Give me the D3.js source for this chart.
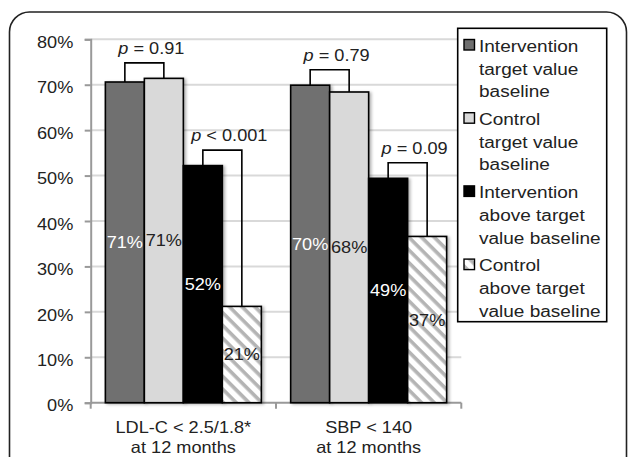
<!DOCTYPE html>
<html>
<head>
<meta charset="utf-8">
<script src="https://cdn.jsdelivr.net/npm/d3@7"></script>
<style>
  body { margin: 0; background: #fff; }
  svg { display: block; font-family: "Liberation Sans", Arial, sans-serif; }
</style>
</head>
<body>
<svg width="629" height="457"></svg>
<script>
// data
var categories = ["LDL-C < 2.5/1.8*|at 12 months", "SBP < 140|at 12 months"];
var series = ["Intervention target value baseline", "Control target value baseline",
              "Intervention above target value baseline", "Control above target value baseline"];
var legendLines = [["Intervention", "target value", "baseline"],
                   ["Control", "target value", "baseline"],
                   ["Intervention", "above target", "value baseline"],
                   ["Control", "above target", "value baseline"]];
var ldlValues = [0.706, 0.714, 0.522, 0.212];
var sbpValues = [0.699, 0.684, 0.494, 0.366];
var pLabels = [["= 0.91", "< 0.001"], ["= 0.79", "= 0.09"]];
var yTicks = [0, 0.1, 0.2, 0.3, 0.4, 0.5, 0.6, 0.7, 0.8];

var values = [ldlValues, sbpValues];
var fills = ["#6f6f6f", "#d9d9d9", "#000", "url(#hatch)"];
var labelColors = ["#fff", "#222", "#fff", "#222"];
var fontSize = 16.5;
var stretchK = 1.1;

var svg = d3.select("svg");
var defs = svg.append("defs");

// grey "\" stripes on white
var pat = defs.append("pattern")
    .attr("id", "hatch")
    .attr("patternUnits", "userSpaceOnUse")
    .attr("width", 9).attr("height", 9)
    .attr("patternTransform", "rotate(45)");
pat.append("rect").attr("width", 9).attr("height", 9).attr("fill", "#fff");
pat.append("rect").attr("width", 9).attr("height", 3.6).attr("fill", "#b4b4b4");

var shadow = defs.append("filter").attr("id", "shadow")
    .attr("x", "-20%").attr("y", "-5%").attr("width", "150%").attr("height", "115%");
shadow.append("feDropShadow")
    .attr("dx", 2).attr("dy", 1).attr("stdDeviation", 1.5)
    .attr("flood-color", "#000").attr("flood-opacity", 0.3);

// the picture's text is a bit wider than plain Arial
function stretch(sel) {
  sel.each(function() {
    var w = this.getComputedTextLength();
    d3.select(this).attr("textLength", w * stretchK).attr("lengthAdjust", "spacingAndGlyphs");
  });
}

// outer rounded frame
svg.append("rect")
    .attr("x", 9.5).attr("y", 12).attr("width", 617).attr("height", 520)
    .attr("rx", 20)
    .attr("fill", "none").attr("stroke", "#222").attr("stroke-width", 1.6);

var plotLeft = 90.7, plotRight = 461.3, plotTop = 39.3, plotBottom = 402.7;

var y = d3.scaleLinear().domain([0, 0.8]).range([plotBottom, plotTop]);
var x0 = d3.scaleBand().domain(categories).range([plotLeft, plotRight]).padding(0);
var x1 = d3.scaleBand().domain(d3.range(series.length))
    .range([0, x0.bandwidth()]).paddingInner(0).paddingOuter(0.376);

// gridlines
svg.append("g")
    .selectAll("line")
    .data(yTicks.slice(1))
    .join("line")
    .attr("x1", plotLeft).attr("x2", plotRight)
    .attr("y1", function(d) { return y(d); })
    .attr("y2", function(d) { return y(d); })
    .attr("stroke", "#d9d9d9").attr("stroke-width", 2);

// y axis
var yAxis = svg.append("g")
    .attr("transform", "translate(" + plotLeft + ",0)")
    .call(d3.axisLeft(y).tickValues(yTicks).tickFormat(d3.format(".0%"))
      .tickSize(6).tickPadding(11.4));
yAxis.select(".domain").attr("stroke", "#999").attr("stroke-width", 2);
yAxis.selectAll(".tick line").attr("stroke", "#999").attr("stroke-width", 2);
yAxis.selectAll(".tick text")
    .attr("dy", "0.5em")
    .attr("fill", "#222")
    .style("font-size", fontSize + "px")
    .style("font-family", "'Liberation Sans', Arial, sans-serif")
    .call(stretch);

// x axis line and boundary ticks
svg.append("line")
    .attr("x1", plotLeft).attr("x2", plotRight).attr("y1", plotBottom).attr("y2", plotBottom)
    .attr("stroke", "#999").attr("stroke-width", 2);
var bounds = categories.map(function(c) { return x0(c); }).concat([plotRight]);
svg.append("g").selectAll("line")
    .data(bounds)
    .join("line")
    .attr("x1", function(d) { return d; }).attr("x2", function(d) { return d; })
    .attr("y1", plotBottom).attr("y2", plotBottom + 6)
    .attr("stroke", "#999").attr("stroke-width", 2);

// x labels
var xl = svg.append("g").selectAll("text")
    .data(categories)
    .join("text")
    .attr("text-anchor", "middle")
    .attr("fill", "#222")
    .style("font-size", fontSize + "px");
xl.each(function(c) {
  var lines = c.split("|");
  var t = d3.select(this);
  lines.forEach(function(l, i) {
    t.append("tspan")
      .attr("x", x0(c) + x0.bandwidth() / 2)
      .attr("y", 433.3 + i * 19.5)
      .text(l);
  });
});
xl.selectAll("tspan").call(stretch);

// bars
var groups = svg.append("g").selectAll("g")
    .data(categories)
    .join("g")
    .attr("transform", function(c) { return "translate(" + x0(c) + ",0)"; });

groups.selectAll("rect")
    .data(function(c, ci) { return values[ci]; })
    .join("rect")
    .attr("x", function(d, i) { return x1(i); })
    .attr("y", function(d) { return y(d); })
    .attr("width", x1.bandwidth())
    .attr("height", function(d) { return y(0) - y(d); })
    .attr("fill", function(d, i) { return fills[i]; })
    .attr("stroke", "#000").attr("stroke-width", 1.6)
    .attr("filter", "url(#shadow)");

// value labels in the middle of each bar
groups.selectAll("text.val")
    .data(function(c, ci) { return values[ci]; })
    .join("text")
    .attr("class", "val")
    .attr("x", function(d, i) { return x1(i) + x1.bandwidth() / 2; })
    .attr("y", function(d) { return y(d / 2); })
    .attr("dy", "0.36em")
    .attr("text-anchor", "middle")
    .attr("fill", function(d, i) { return labelColors[i]; })
    .style("font-size", fontSize + "px")
    .text(d3.format(".0%"))
    .call(stretch);

// p-value brackets between pairs of bars
categories.forEach(function(c, ci) {
  var g = groups.filter(function(d) { return d === c; });
  [[0, 1], [2, 3]].forEach(function(pair, pi) {
    var a = pair[0], b = pair[1];
    var xa = x1(a) + x1.bandwidth() / 2, xb = x1(b) + x1.bandwidth() / 2;
    var ya = y(values[ci][a]), yb = y(values[ci][b]);
    var yt = Math.min(ya, yb) - 15.5;
    g.append("path")
      .attr("d", "M" + xa + "," + ya + "V" + yt + "H" + xb + "V" + yb)
      .attr("fill", "none").attr("stroke", "#000").attr("stroke-width", 1.6);
    var t = g.append("text")
      .attr("x", (xa + xb) / 2 + 7)
      .attr("y", yt - 9)
      .attr("text-anchor", "middle")
      .attr("fill", "#222")
      .style("font-size", fontSize + "px");
    t.append("tspan").attr("font-style", "italic").text("p");
    t.append("tspan").text(" " + pLabels[ci][pi]);
    t.call(stretch);
  });
});

// legend
var lg = svg.append("g");
lg.append("rect")
    .attr("x", 457.7).attr("y", 28.3).attr("width", 149).attr("height", 293.4)
    .attr("fill", "#fff").attr("stroke", "#000").attr("stroke-width", 1.6);
var items = lg.selectAll("g.item")
    .data(series)
    .join("g")
    .attr("class", "item")
    .attr("transform", function(d, i) { return "translate(0," + (i * 73.2) + ")"; });
items.append("rect")
    .attr("x", 464).attr("y", 39.5).attr("width", 10.5).attr("height", 10.5)
    .attr("fill", function(d, i) { return fills[i]; })
    .attr("stroke", "#000").attr("stroke-width", 1.4);
items.each(function(d, i) {
  var t = d3.select(this).append("text")
    .attr("fill", "#222")
    .style("font-size", (fontSize + 0.8) + "px");
  legendLines[i].forEach(function(l, j) {
    t.append("tspan").attr("x", 479).attr("y", 51.7 + j * 22.8).text(l);
  });
});
items.selectAll("tspan").call(stretch);
</script>
</body>
</html>
